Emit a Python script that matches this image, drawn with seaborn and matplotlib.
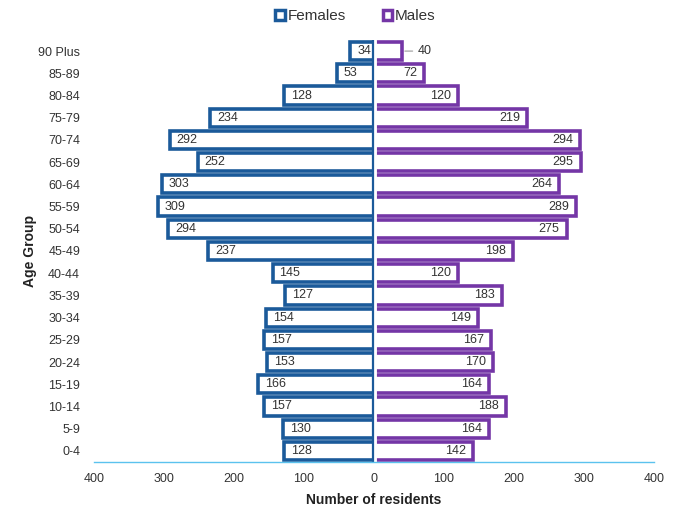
import matplotlib
matplotlib.use("Agg")
import matplotlib.pyplot as plt
import seaborn as sns
import pandas as pd
from matplotlib.patches import Patch

age_groups = ["90 Plus", "85-89", "80-84", "75-79", "70-74", "65-69", "60-64", "55-59",
              "50-54", "45-49", "40-44", "35-39", "30-34", "25-29", "20-24", "15-19",
              "10-14", "5-9", "0-4"]
females = [34, 53, 128, 234, 292, 252, 303, 309, 294, 237, 145, 127, 154, 157, 153, 166, 157, 130, 128]
males = [40, 72, 120, 219, 294, 295, 264, 289, 275, 198, 120, 183, 149, 167, 170, 164, 188, 164, 142]
x_ticks = [-400, -300, -200, -100, 0, 100, 200, 300, 400]

FEM_C = "#1B5A9A"
MAL_C = "#7436A6"

sns.set_theme(style="white")
plt.rcParams["font.family"] = ["Liberation Sans", "DejaVu Sans"]

df = pd.DataFrame({"age": age_groups, "fem": [-v for v in females], "mal": males})

fig = plt.figure(figsize=(6.77, 5.08), dpi=100)
ax = fig.add_axes([0.1389, 0.0906, 0.8272, 0.8307])

sns.barplot(data=df, y="age", x="fem", orient="h", order=age_groups, color="white",
            edgecolor=FEM_C, linewidth=2.6, width=0.82, ax=ax, saturation=1)
sns.barplot(data=df, y="age", x="mal", orient="h", order=age_groups, color="white",
            edgecolor=MAL_C, linewidth=2.6, width=0.82, ax=ax, saturation=1)

ax.axvline(0, color="white", lw=3.5, zorder=5)
ax.axvline(-1.2, color=FEM_C, lw=1.6, zorder=6)

for i, (f, m) in enumerate(zip(females, males)):
    ax.annotate(str(f), xy=(-f, i), xytext=(5, 0), textcoords="offset points",
                ha="left", va="center", fontsize=9, color="#333333")
    if m >= 60:
        ax.annotate(str(m), xy=(m, i), xytext=(-5, 0), textcoords="offset points",
                    ha="right", va="center", fontsize=9, color="#333333")
    else:
        ax.annotate(str(m), xy=(m, i), xytext=(11, 0), textcoords="offset points",
                    ha="left", va="center", fontsize=9, color="#333333",
                    arrowprops=dict(arrowstyle="-", color="#999999", lw=0.8,
                                    shrinkA=1, shrinkB=2))

ax.set_xlim(-400, 400)
ax.set_ylim(len(age_groups) - 0.5, -0.5)
ax.set_xticks(x_ticks)
ax.set_xticklabels([str(abs(t)) for t in x_ticks])
ax.tick_params(axis="both", length=0, labelsize=9, labelcolor="#333333")
ax.tick_params(axis="y", pad=10)
ax.tick_params(axis="x", pad=8)

for s in ["top", "right", "left"]:
    ax.spines[s].set_visible(False)
ax.spines["bottom"].set_color("#5BC2EE")
ax.spines["bottom"].set_linewidth(1)
ax.spines["bottom"].set_zorder(7)

ax.set_xlabel("Number of residents", fontsize=10, fontweight="bold", color="#222222", labelpad=6)
ax.set_ylabel("Age Group", fontsize=10, fontweight="bold", color="#222222", labelpad=1)

handles = [Patch(facecolor="white", edgecolor=FEM_C, linewidth=2.5, label="Females"),
           Patch(facecolor="white", edgecolor=MAL_C, linewidth=2.5, label="Males")]
fig.legend(handles=handles, loc="center", bbox_to_anchor=(0.525, 0.968), ncol=2, frameon=False,
           fontsize=11, handlelength=0.6, handleheight=0.6, handletextpad=0.2,
           columnspacing=2.4, labelcolor="#333333")

fig.savefig("out.png", dpi=100)
